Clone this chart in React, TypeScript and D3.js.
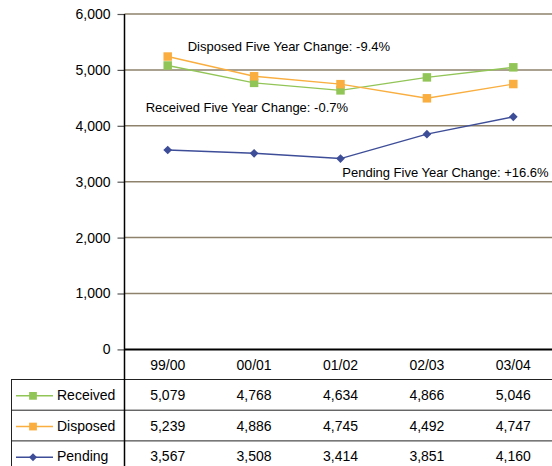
import * as d3 from 'd3';
import { useEffect, useRef } from 'react';

const categories = ['99/00', '00/01', '01/02', '02/03', '03/04'];
const received = [5079, 4768, 4634, 4866, 5046];
const disposed = [5239, 4886, 4745, 4492, 4747];
const pending = [3567, 3508, 3414, 3851, 4160];
const yTicks = [0, 1000, 2000, 3000, 4000, 5000, 6000];

const seriesNames = ['Received', 'Disposed', 'Pending'];
const seriesColors = ['#92C557', '#F9AE3F', '#3D4D98'];
const annotations = [
  { text: 'Disposed Five Year Change: -9.4%', cat: '99/00', value: 5345, dx: 20 },
  { text: 'Received Five Year Change: -0.7%', cat: '99/00', value: 4252, dx: -22 },
  { text: 'Pending Five Year Change: +16.6%', cat: '03/04', value: 3090, dx: -171 },
];

const App = () => {
  const svgRef = useRef<SVGSVGElement | null>(null);

  useEffect(() => {
    if (!svgRef.current) return;
    const width = 552;
    const height = 466;
    const font = '"Liberation Sans", Arial, sans-serif';

    const svg = d3.select(svgRef.current)
      .html('')
      .attr('width', width)
      .attr('height', height)
      .style('font-family', font);

    const plotLeft = 124.5;
    const plotTop = 14;
    const plotBottom = 349.4;

    const x = d3.scaleBand<string>()
      .domain(categories)
      .range([plotLeft, plotLeft + 432])
      .padding(0);

    const y = d3.scaleLinear()
      .domain([0, 6000])
      .range([plotBottom, plotTop]);

    // gridlines
    svg.append('g')
      .selectAll('line')
      .data(yTicks.filter(t => t > 0))
      .enter().append('line')
      .attr('x1', plotLeft)
      .attr('x2', width)
      .attr('y1', d => y(d))
      .attr('y2', d => y(d))
      .attr('stroke', '#8E826C')
      .attr('stroke-width', 1.5);

    // y axis
    const yAxis = svg.append('g')
      .attr('transform', `translate(${plotLeft},0)`)
      .call(d3.axisLeft(y).tickValues(yTicks).tickSize(7).tickPadding(7).tickFormat(d3.format(',')));
    yAxis.select('.domain').remove();
    yAxis.selectAll('.tick line').attr('stroke', '#555').attr('stroke-width', 1.2);
    yAxis.selectAll('.tick text')
      .attr('fill', '#000')
      .style('font-size', '14px')
      .style('font-family', font);

    // table lines
    const rowTop = 379.5;
    const rowH = 30.7;
    const tbl = svg.append('g').attr('stroke', '#222').attr('stroke-width', 1);
    [0, 1, 2, 3].forEach(i => {
      tbl.append('line')
        .attr('x1', 11).attr('x2', width)
        .attr('y1', rowTop + i * rowH).attr('y2', rowTop + i * rowH);
    });
    tbl.append('line').attr('x1', 11.5).attr('x2', 11.5).attr('y1', rowTop).attr('y2', height);

    // vertical axis line
    svg.append('line')
      .attr('x1', plotLeft).attr('x2', plotLeft)
      .attr('y1', plotTop).attr('y2', height)
      .attr('stroke', '#000').attr('stroke-width', 1.5);

    // zero axis
    svg.append('line')
      .attr('x1', plotLeft).attr('x2', width)
      .attr('y1', plotBottom).attr('y2', plotBottom)
      .attr('stroke', '#000').attr('stroke-width', 2);

    const cx = (c: string) => (x(c) ?? 0) + x.bandwidth() / 2;

    // header labels
    svg.append('g')
      .selectAll('text')
      .data(categories)
      .enter().append('text')
      .attr('x', d => cx(d))
      .attr('y', 370)
      .attr('text-anchor', 'middle')
      .style('font-size', '14px')
      .text(d => d);

    const allSeries = [received, disposed, pending];

    // lines and markers
    allSeries.forEach((vals, si) => {
      const line = d3.line<number>()
        .x((_, i) => cx(categories[i]))
        .y(d => y(d));
      svg.append('path')
        .datum(vals)
        .attr('fill', 'none')
        .attr('stroke', seriesColors[si])
        .attr('stroke-width', 1.4)
        .attr('d', line);
      svg.append('g')
        .selectAll('path')
        .data(vals)
        .enter().append('path')
        .attr('transform', (d, i) => `translate(${cx(categories[i])},${y(d)})${si === 2 ? ' rotate(45)' : ''}`)
        .attr('d', d3.symbol().type(d3.symbolSquare).size(si === 2 ? 38 : 72)())
        .attr('fill', seriesColors[si]);
    });

    // table rows
    allSeries.forEach((vals, si) => {
      const rowY = rowTop + si * rowH + rowH / 2 + 5;
      const markerY = rowTop + si * rowH + rowH / 2 + 1;
      svg.append('line')
        .attr('x1', 16).attr('x2', 53)
        .attr('y1', markerY).attr('y2', markerY)
        .attr('stroke', seriesColors[si]).attr('stroke-width', 1.5);
      svg.append('path')
        .attr('transform', `translate(33,${markerY})${si === 2 ? ' rotate(45)' : ''}`)
        .attr('d', d3.symbol().type(d3.symbolSquare).size(si === 2 ? 32 : 60)())
        .attr('fill', seriesColors[si]);
      svg.append('text')
        .attr('x', 57)
        .attr('y', rowY)
        .attr('text-anchor', 'start')
        .style('font-size', '14px')
        .text(seriesNames[si]);
      svg.append('g')
        .selectAll('text')
        .data(vals)
        .enter().append('text')
        .attr('x', (_, i) => cx(categories[i]))
        .attr('y', rowY)
        .attr('text-anchor', 'middle')
        .style('font-size', '14px')
        .text(d => d3.format(',')(d));
    });

    // annotations
    svg.append('g')
      .selectAll('text')
      .data(annotations)
      .enter().append('text')
      .attr('x', d => cx(d.cat) + d.dx)
      .attr('y', d => y(d.value))
      .attr('text-anchor', 'start')
      .style('font-size', '13px')
      .text(d => d.text);
  }, []);

  return <svg ref={svgRef} style={{ position: 'absolute', left: 0, top: 0 }} />;
};

export default App;
